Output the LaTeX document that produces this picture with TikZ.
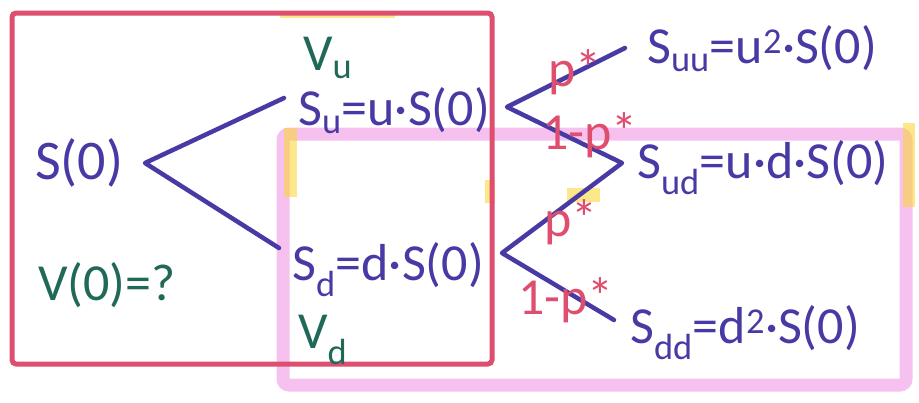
\documentclass[tikz,border=0pt]{standalone}
\usepackage{fontspec}
\setmainfont{Carlito}
\usepackage{tikz}
\usetikzlibrary{calc}
\usepackage{xcolor}
\definecolor{penblue}{RGB}{72,58,165}
\definecolor{pengreen}{RGB}{32,104,88}
\definecolor{penred}{RGB}{222,78,110}
\definecolor{hlpink}{RGB}{240,150,228}
\definecolor{hlyellow}{RGB}{250,215,60}
\tikzset{
  price/.style={text=penblue,inner sep=0pt,anchor=base west,font=\fontsize{52}{56}\selectfont},
  value/.style={text=pengreen,inner sep=0pt,anchor=base west,font=\fontsize{52}{56}\selectfont},
  prob/.style={text=penred,inner sep=0pt,font=\fontsize{52}{56}\selectfont},
  branch/.style={penblue,line width=4.5pt,line cap=round,line join=round},
  marker/.style={opacity=0.6,line width=13pt},
}

\begin{document}
\begin{tikzpicture}[x=1pt,y=-1pt]
\useasboundingbox (0,0) rectangle (919,402);
% evidenziatori
\draw[marker,hlpink,rounded corners=6pt] (283,134) rectangle (906,385);
\draw[marker,hlyellow,line width=7pt] (280,14) -- (395,14);
\draw[marker,hlyellow] (290,128) -- (290,197);
\draw[marker,hlyellow,line width=10pt] (490,180) -- (490,203);
\draw[marker,hlyellow,line width=12pt] (909,123) -- (909,207);
\draw[marker,hlyellow,line width=14pt] (567,195) -- (600,195);
% primo periodo
\draw[penred,line width=5pt,rounded corners=4pt] (12,13) rectangle (492,364);
% nodi
\node[price,font=\fontsize{56}{60}\selectfont] (S0) at (35,179) {S(0)};
\node[price] (Su) at (298,125) {S\textsubscript{u}=u·S(0)};
\node[price] (Sd) at (292,280) {S\textsubscript{d}=d·S(0)};
\node[price] (Suu) at (647,63) {S\textsubscript{uu}=u\textsuperscript{2}·S(0)};
\node[price] (Sud) at (637,178) {S\textsubscript{ud}=u·d·S(0)};
\node[price] (Sdd) at (630,343) {S\textsubscript{dd}=d\textsuperscript{2}·S(0)};
\node[value] (Vu) at (303,70) {V\textsubscript{u}};
\node[value] (Vd) at (298,348) {V\textsubscript{d}};
\node[value] (V0) at (38,300) {V(0)=?};
% vertici dei rami
\coordinate (r0) at (145,163);
\coordinate (ru) at (284,98);
\coordinate (rd) at (279,248);
\coordinate (ru2) at (507,107);
\coordinate (ruu) at (625,48);
\coordinate (rud) at (622,163);
\coordinate (rd2) at (502,253);
\coordinate (rdd) at (614,320);
% rami
\draw[branch] (ru) -- (r0) -- (rd);
\draw[branch] (ruu) -- (ru2) -- (rud) -- (rd2) -- (rdd);
% probabilita
\node[prob] (p1) at (575,72) {p*};
\node[prob] (q1) at (590,135) {1-p*};
\node[prob] (p2) at (571,222) {p*};
\node[prob] (q2) at (566,300) {1-p*};
\end{tikzpicture}
\end{document}
